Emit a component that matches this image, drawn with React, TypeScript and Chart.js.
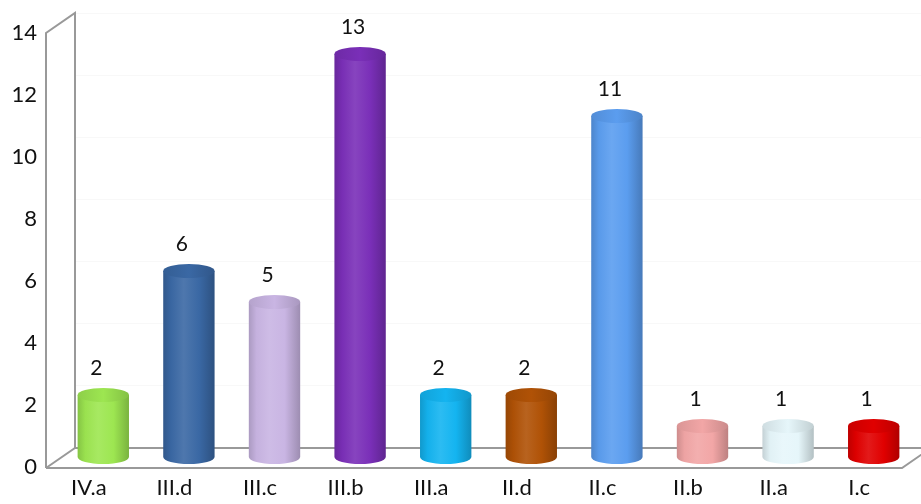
import React, { useEffect, useRef } from "react";
import { Chart, registerables } from "chart.js";

Chart.register(...registerables);

const categories = ["IV.a", "III.d", "III.c", "III.b", "III.a", "II.d", "II.c", "II.b", "II.a", "I.c"];
const values = [2, 6, 5, 13, 2, 2, 11, 1, 1, 1];
const barColors = ["#9de651", "#3a68a4", "#c9b5e3", "#7a2fb8", "#14b4f0", "#b05206", "#5b9def", "#f2a6a6", "#e6f6fa", "#e00000"];
const yTicks = [0, 2, 4, 6, 8, 10, 12, 14];

const DEPTH_X = 29;
const DEPTH_Y = -20;

function hexToRgb(h: string) {
  const n = parseInt(h.slice(1), 16);
  return [(n >> 16) & 255, (n >> 8) & 255, n & 255];
}
function shade(h: string, f: number) {
  const [r, g, b] = hexToRgb(h);
  const m = (c: number) =>
    Math.round(f >= 0 ? c + (255 - c) * f : c * (1 + f));
  return `rgb(${m(r)},${m(g)},${m(b)})`;
}

const frame3d = {
  id: "frame3d",
  beforeDatasetsDraw(chart: any) {
    const ctx = chart.ctx;
    const y = chart.scales.y;
    const a = chart.chartArea;
    const x0 = a.left, x1 = a.right, yb = y.getPixelForValue(0), yt = y.getPixelForValue(14);
    ctx.save();
    // faint back-wall grid lines
    ctx.strokeStyle = "#f8f8f8";
    ctx.lineWidth = 1;
    for (const t of yTicks) {
      if (t === 0) continue;
      const py = y.getPixelForValue(t) + DEPTH_Y + 0.5;
      ctx.beginPath();
      ctx.moveTo(x0 + DEPTH_X, py);
      ctx.lineTo(chart.width, py);
      ctx.stroke();
    }
    ctx.strokeStyle = "#999999";
    ctx.lineWidth = 2;
    ctx.lineJoin = "miter";
    ctx.beginPath();
    ctx.moveTo(x0, yb + 1);
    ctx.lineTo(x0, yt);
    ctx.lineTo(x0 + DEPTH_X, yt + DEPTH_Y);
    ctx.lineTo(x0 + DEPTH_X, yb + 1 + DEPTH_Y);
    ctx.stroke();
    ctx.beginPath();
    ctx.moveTo(x0, yb + 1);
    ctx.lineTo(x1, yb + 1);
    ctx.lineTo(x1 + DEPTH_X, yb + 1 + DEPTH_Y);
    ctx.moveTo(x0, yb + 1);
    ctx.lineTo(x0 + DEPTH_X, yb + 1 + DEPTH_Y);
    ctx.lineTo(chart.width + 5, yb + 1 + DEPTH_Y);
    ctx.stroke();
    ctx.restore();
  },
  afterDatasetsDraw(chart: any) {
    const ctx = chart.ctx;
    const meta = chart.getDatasetMeta(0);
    const yScale = chart.scales.y;
    const zeroY = yScale.getPixelForValue(0);
    ctx.save();
    meta.data.forEach((el: any, i: number) => {
      const cx = el.x + DEPTH_X / 2;
      const w = el.width;
      const rx = w / 2;
      const ry = 7;
      const top = el.y + DEPTH_Y / 2;
      const bot = zeroY + DEPTH_Y / 2;
      const base = barColors[i];
      const g = ctx.createLinearGradient(cx - rx, 0, cx + rx, 0);
      g.addColorStop(0, shade(base, -0.15));
      g.addColorStop(0.15, shade(base, -0.02));
      g.addColorStop(0.4, shade(base, 0.1));
      g.addColorStop(0.7, base);
      g.addColorStop(1, shade(base, -0.22));
      ctx.fillStyle = g;
      ctx.beginPath();
      ctx.moveTo(cx - rx, top);
      ctx.lineTo(cx - rx, bot);
      ctx.ellipse(cx, bot, rx, ry, 0, Math.PI, 0, true);
      ctx.lineTo(cx + rx, top);
      ctx.closePath();
      ctx.fill();
      const gt = ctx.createLinearGradient(cx - rx, 0, cx + rx, 0);
      gt.addColorStop(0, shade(base, -0.1));
      gt.addColorStop(0.5, shade(base, 0.0));
      gt.addColorStop(1, shade(base, -0.16));
      ctx.fillStyle = gt;
      ctx.beginPath();
      ctx.ellipse(cx, top, rx, ry, 0, 0, Math.PI * 2);
      ctx.fill();
      ctx.fillStyle = "#111111";
      ctx.font = "21px Lato";
      ctx.textAlign = "center";
      ctx.textBaseline = "middle";
      ctx.fillText(String(values[i]), cx - 7, top - 27);
    });
    ctx.restore();
  },
};

export default function App() {
  const ref = useRef<HTMLCanvasElement>(null);
  useEffect(() => {
    document.body.style.margin = "0";
    const chart = new Chart(ref.current!, {
      type: "bar",
      data: {
        labels: categories,
        datasets: [
          {
            data: values,
            backgroundColor: "transparent",
            borderWidth: 0,
            barPercentage: 0.6,
            categoryPercentage: 1,
          },
        ],
      },
      options: {
        animation: false,
        responsive: false,
        layout: { padding: { top: 33, right: 19, left: 0, bottom: 0 } },
        plugins: { legend: { display: false }, tooltip: { enabled: false } },
        scales: {
          x: {
            grid: { display: false, drawTicks: false },
            border: { display: false },
            ticks: { color: "#111111", font: { family: "Lato", size: 22 }, padding: 8, maxRotation: 0 },
            afterFit: (s: any) => { s.height = 37; },
          },
          y: {
            min: 0,
            max: 14,
            afterBuildTicks: (s: any) => { s.ticks = yTicks.map((v) => ({ value: v })); },
            grid: { display: false, drawTicks: false },
            border: { display: false },
            ticks: { color: "#111111", font: { family: "Lato", size: 22 }, padding: 9 },
            afterFit: (s: any) => { s.width = 46; },
          },
        },
      },
      plugins: [frame3d],
    });
    return () => chart.destroy();
  }, []);
  return <canvas ref={ref} width={921} height={504} style={{ display: "block" }} />;
}
